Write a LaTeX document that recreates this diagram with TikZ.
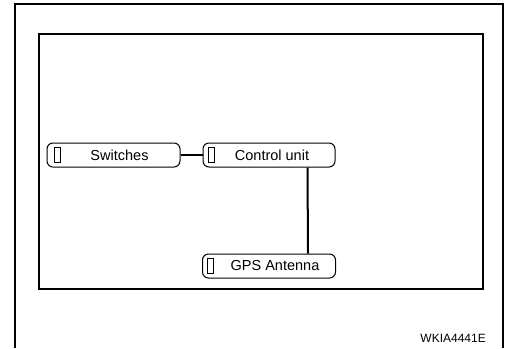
\documentclass[tikz,border=0pt]{standalone}
\usepackage{fontspec}
\setmainfont{Liberation Sans}
\usetikzlibrary{positioning}

\begin{document}
\begin{tikzpicture}[x=1pt, y=-1pt,
            unit/.style={draw, rectangle, rounded corners=6pt, line width=1pt, minimum width=133pt, minimum height=24pt, inner sep=0pt, font=\fontsize{14.5}{16}\selectfont},
            tag/.style={draw, rectangle, line width=1pt, minimum width=6pt, minimum height=15pt, inner sep=0pt},
            wire/.style={line width=2pt}
        ]
            \useasboundingbox (0,0) rectangle (505,348);
            \draw [line width=2pt] (15,348) |- (503,4) -- (503,348);
            \draw [line width=2.5pt] (39,34) rectangle (483,289);

            \node (cu) [unit, minimum width=132pt] at (269,155) {\hspace*{6pt}Control unit};
            \node (sw) [unit, left=22pt of cu] {\hspace*{12pt}Switches};
            \node (gps) [unit, below=86pt of cu] {\hspace*{12pt}GPS Antenna};
            \foreach \n/\d in {sw/7pt, cu/5pt, gps/5pt}
                \node (\n-tag) [tag, right=\d of \n.west] {};

            \draw [wire, line width=1.5pt] (sw) -- (cu);
            \draw [wire] ([xshift=-28pt]cu.south east) -- ([xshift=-28pt]gps.north east);

            \node (code) [anchor=east, inner sep=0pt, font=\fontsize{12}{14}\selectfont] at (486,338) {WKIA4441E};
        \end{tikzpicture}
\end{document}
